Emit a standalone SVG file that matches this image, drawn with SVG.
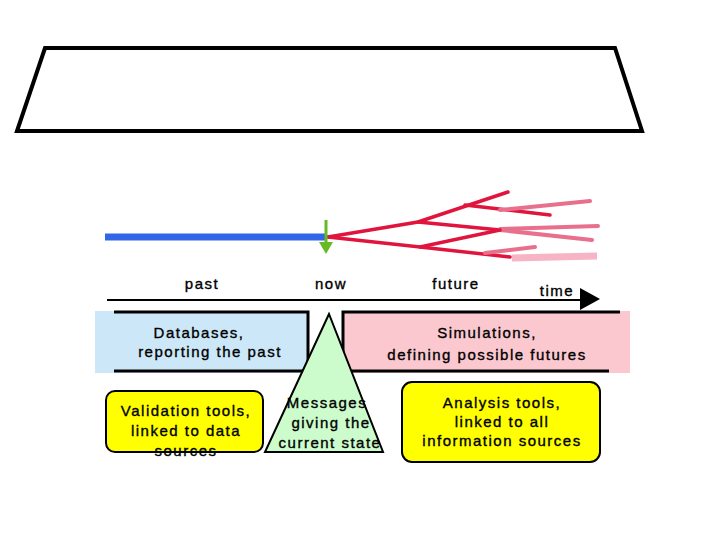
<svg xmlns="http://www.w3.org/2000/svg" width="720" height="540" viewBox="0 0 720 540">
<style>
text{font-family:"Liberation Sans",Arial,sans-serif;font-size:15px;letter-spacing:1.5px;fill:#000;stroke:#000;stroke-width:0.35;text-anchor:middle}
.red{stroke:#e0143c;stroke-width:3.5;fill:none;stroke-linecap:round}
.pink{stroke:#e8708c;stroke-width:4;fill:none;stroke-linecap:round}
.lpink{stroke:#f6b4c4;stroke-width:7;fill:none}
.bl{stroke:#000;stroke-width:3;fill:none}
</style>
<rect width="720" height="540" fill="#fff"/>
<g id="frame">
<polygon points="45,48 615,48 642,131 17,131" fill="#fff" stroke="#000" stroke-width="4"/>
</g>
<g id="timeline">
<line x1="105" y1="237" x2="326" y2="237" stroke="#3366e6" stroke-width="7"/>
<g id="tree">
<polyline class="red" points="328,237 418,222 508,192"/>
<line class="red" x1="465" y1="205" x2="550" y2="215"/>
<line class="pink" x1="500" y1="210" x2="590" y2="201"/>
<line class="red" x1="418" y1="222" x2="500" y2="230"/>
<line class="pink" x1="500" y1="229" x2="598" y2="226"/>
<line class="pink" x1="500" y1="230" x2="592" y2="240"/>
<polyline class="red" points="328,237 420,247 500,230"/>
<line class="red" x1="420" y1="247" x2="510" y2="257"/>
<line class="pink" x1="485" y1="253" x2="535" y2="247"/>
<line class="lpink" x1="512" y1="258" x2="597" y2="256"/>
</g>
<line x1="326" y1="220" x2="326" y2="244" stroke="#66bb22" stroke-width="3"/>
<polygon points="319,242 333,242 326,254" fill="#66bb22"/>
</g>
<g id="axis">
<line x1="107" y1="300" x2="584" y2="300" stroke="#000" stroke-width="2"/>
<polygon points="580,288 600,299 580,310" fill="#000"/>
<text x="202" y="289">past</text>
<text x="331" y="289">now</text>
<text x="456" y="289">future</text>
<text x="557" y="296">time</text>
</g>
<g id="databases">
<rect x="95" y="311" width="214" height="62" fill="#cce8f8"/>
<polyline class="bl" points="114,312 308,312 308,371 114,371"/>
<text x="199" y="338">Databases,</text>
<text x="210" y="357">reporting the past</text>
</g>
<g id="simulations">
<rect x="342" y="311" width="288" height="62" fill="#fcc8d0"/>
<polyline class="bl" points="620,312 343,312 343,371 609,371"/>
<text x="487" y="338">Simulations,</text>
<text x="487" y="360">defining possible futures</text>
</g>
<g id="messages">
<polygon points="329,314 265,452 383,452" fill="#ccfccc" stroke="#000" stroke-width="2"/>
<text x="327" y="408">Messages</text>
<text x="331" y="428">giving the</text>
<text x="330" y="448">current state</text>
</g>
<g id="validation">
<rect x="106" y="391" width="157" height="61" rx="9" fill="#ffff00" stroke="#000" stroke-width="2"/>
<text x="186" y="416">Validation tools,</text>
<text x="186" y="436">linked to data</text>
<text x="186" y="456">sources</text>
</g>
<g id="analysis">
<rect x="402" y="382" width="198" height="80" rx="10" fill="#ffff00" stroke="#000" stroke-width="2"/>
<text x="502" y="408">Analysis tools,</text>
<text x="502" y="427">linked to all</text>
<text x="502" y="446">information sources</text>
</g>
</svg>
